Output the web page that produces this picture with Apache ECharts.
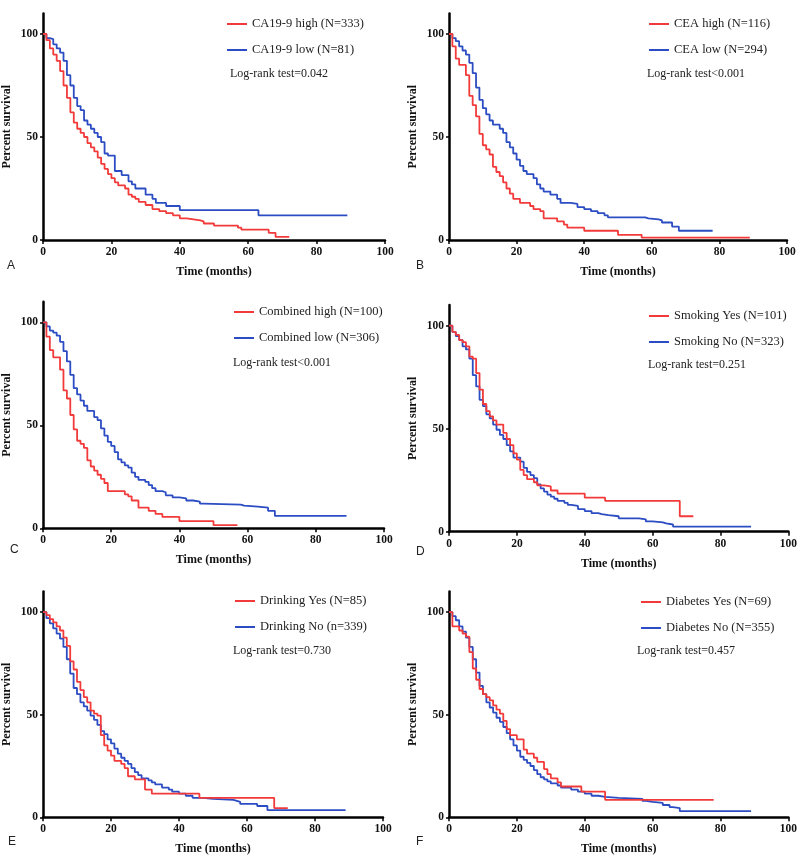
<!DOCTYPE html>
<html>
<head>
<meta charset="utf-8">
<script src="https://cdn.jsdelivr.net/npm/echarts@6/dist/echarts.min.js"></script>
<style>
  html, body { margin: 0; padding: 0; background: #fff; }
  #main { width: 800px; height: 859px; }
</style>
</head>
<body>
<div id="main"></div>
<script>
// survival data, [month, percent surviving from that month on]
var caHigh = [[0,100],[1,97],[2,93],[3,90],[4,87],[5,82],[6,75],[7,69],[8,62],[9,57],[10,54],[11,52],[12,50],[13,47],[14,45],[15,43],[16,40],[17,37],[18,34.5],[19,32],[20,30],[21,28],[22,26.5],[24,25],[25,22],[26,21],[27,20],[28,18.5],[30,17],[32,15],[34,14],[36,13],[38,12],[40,10.5],[42,10],[44,9.5],[46,9],[47,8],[50,7],[57,6],[58,5],[66,3.5],[68,1.5],[72,1.5]];
var caLow = [[0,100],[1,98],[2,97.5],[3,95],[4,93],[5,91],[6,87],[7,80],[8,75],[9,69],[10,65],[11,63],[12,58],[13,56],[14,54],[15,52],[16,50],[17,47.5],[18,42],[19,41],[21,33.5],[23,31.5],[25,28.5],[26,27],[27,25],[30,22],[32,20],[33,18],[36,16.5],[40,14.5],[63,12],[89,12]];
var ceaHigh = [[0,100],[1,94],[2,88],[3,85],[5,80],[6,70],[7,65.5],[8,60],[9,51.5],[10,46],[11,44],[12,41.5],[13,35.5],[14,33],[15,31],[16,28],[17,25],[18,22.5],[19,20],[21,18],[24,16.5],[25,15],[27,14],[28,10.5],[32,9],[34,7.5],[35,6],[40,4.5],[50,2.5],[57,1.2],[89,1.2]];
var ceaLow = [[0,100],[1,98],[2,96.5],[3,94],[4,92],[5,90],[6,86],[7,81],[8,74],[9,68],[10,64],[11,61],[12,58],[13,56],[15,54],[16,52],[17,47.5],[18,45],[19,42],[20,39],[21,36],[22,33.5],[23,32],[25,30],[26,27],[27,25],[28,23.5],[30,22],[32,20],[33,18],[36,17.5],[38,16],[40,15],[42,14],[44,13],[46,12],[47,11],[58,10.5],[59,10],[62,9.5],[63,8.5],[66,6.5],[68,4.5],[78,4.5]];
var combHigh = [[0,100],[1,93],[2,86.5],[3,83],[5,77],[6,67],[7,63],[8,55],[9,48],[10,42.5],[11,41],[12,39],[13,33],[14,30],[15,28],[16,26],[17,24],[18,22],[19,18],[24,16.5],[25,15.5],[26,13.5],[28,10],[31,8.5],[33,7],[35,5.5],[40,3.5],[50,1.5],[57,1.5]];
var combLow = [[0,100],[1,98],[2,96],[3,95],[4,93.5],[5,90.5],[6,86],[7,81],[8,74.5],[9,68],[10,65],[11,62],[12,59.5],[13,57],[15,54],[16,52.5],[17,48.5],[18,45],[19,42],[20,40],[21,37],[22,33.5],[23,32],[24,30.5],[25,29.5],[26,27],[27,25],[28,23.5],[30,22.5],[31,21],[32,19.5],[33,18],[35,17.5],[36,16],[38,15],[40,14.5],[42,13.5],[44,13],[46,12],[47,11.5],[58,11],[59,10.5],[63,10],[66,8.5],[68,6],[89,6]];
var smokeYes = [[0,100],[1,97],[2,95.5],[3,93],[4,92],[5,90],[6,85],[7,84],[8,77],[9,69],[10,62],[11,58.5],[12,56],[13,54],[14,52],[16,48],[17,45],[18,42],[19,38],[20,35],[21,30],[22,27.5],[23,25.5],[25,24],[26,22.5],[28,22],[30,20],[32,18.5],[40,16.5],[46,15],[68,7.5],[72,7.5]];
var smokeNo = [[0,100],[1,97],[2,95],[3,93],[4,90],[5,88.5],[6,84],[7,76],[8,70.5],[9,64],[10,61],[11,57],[12,55],[13,52],[14,49.5],[15,47],[16,45],[17,42],[18,39],[19,36],[21,34],[22,31],[23,29],[24,27.5],[25,26],[26,23],[27,21],[28,19.5],[29,18],[30,17],[31,16],[32,15],[34,14],[35,13],[36,12.5],[38,11],[40,10],[42,9],[44,8.5],[45,8],[47,7.5],[50,6.5],[56,6],[58,5],[60,4.5],[63,4],[64,3.5],[66,2.5],[89,2.5]];
var drinkYes = [[0,100],[1,98.5],[2,96.5],[3,95],[4,93],[5,91],[6,87.5],[7,83.5],[8,76],[9,72],[10,66],[11,62],[12,58.5],[13,56],[14,52],[15,50.5],[16,49.5],[17,40],[18,35],[19,32.5],[20,30],[21,27.5],[23,26],[24,24],[25,20],[27,18.5],[30,13.5],[32,11.5],[46,9.5],[68,4.5],[72,4.5]];
var drinkNo = [[0,100],[1,97],[2,94.5],[3,92],[4,89.5],[5,87],[6,83],[7,77],[8,70],[9,63],[10,60],[11,56],[12,54],[13,52],[14,49.5],[15,47.5],[16,45],[17,42],[18,40.5],[19,38],[20,36],[21,33.5],[22,31],[23,29],[24,27.5],[25,26],[26,24],[27,22],[28,20.5],[29,19],[31,18],[32,17],[33,16],[35,14.5],[37,13.5],[38,12.5],[40,11.5],[42,10.5],[44,9.5],[47,9],[50,8.5],[56,8],[57,7.5],[58,6.5],[63,5.5],[66,3.5],[89,3.5]];
var diabYes = [[0,100],[1,93],[3,91],[4,89.5],[5,88],[6,80.5],[7,72.5],[8,67],[9,62.5],[10,60],[11,58.5],[12,57],[13,54.5],[14,52.5],[15,50.5],[16,47],[17,43],[18,40],[20,38],[22,33],[23,31],[25,29],[26,27],[28,23.5],[29,21],[30,19],[32,17],[33,15],[39,12.5],[46,8.5],[78,8.5]];
var diabNo = [[0,100],[1,98],[2,96],[3,93],[4,90.5],[5,87.5],[6,83],[7,77],[8,70.5],[9,64],[10,60],[11,56],[12,53.5],[13,51],[14,48.5],[15,46.5],[16,44],[17,41],[18,38],[19,35],[20,32.5],[21,29.5],[22,28],[23,26.5],[24,25],[25,23],[26,21],[27,19.5],[28,18.5],[29,17.5],[30,16.5],[32,15.5],[33,14.5],[36,13.5],[38,12.5],[40,11.5],[42,10.5],[44,10],[46,9.5],[50,9],[57,8],[58,7.5],[60,7],[63,6],[65,5],[66,4.5],[68,3],[89,3]];

var redNames = ['CA19-9 high (N=333)', 'CEA high (N=116)', 'Combined high (N=100)', 'Smoking Yes (N=101)', 'Drinking Yes (N=85)', 'Diabetes Yes (N=69)'];
var blueNames = ['CA19-9 low (N=81)', 'CEA low (N=294)', 'Combined low (N=306)', 'Smoking No (N=323)', 'Drinking No (n=339)', 'Diabetes No (N=355)'];
var redData = [caHigh, ceaHigh, combHigh, smokeYes, drinkYes, diabYes];
var blueData = [caLow, ceaLow, combLow, smokeNo, drinkNo, diabNo];
var pValues = ['Log-rank test=0.042', 'Log-rank test<0.001', 'Log-rank test<0.001', 'Log-rank test=0.251', 'Log-rank test=0.730', 'Log-rank test=0.457'];
var letters = ['A', 'B', 'C', 'D', 'E', 'F'];
var xTicks = [0, 20, 40, 60, 80, 100];
var yTicks = [0, 50, 100];

// panel placement (pixels)
var panels = [
    {left: 43,  top: 13.4,  width: 342, height: 226.6, legX: 227, legY: 17,  pX: 230, pY: 75,  lX: 11,  lY: 267},
    {left: 449, top: 13.4,  width: 338, height: 226.6, legX: 649, legY: 17,  pX: 647, pY: 75,  lX: 420, lY: 267},
    {left: 43,  top: 301.7, width: 341, height: 226.6, legX: 234, legY: 305, pX: 233, pY: 364, lX: 14,  lY: 551},
    {left: 449, top: 305.1, width: 340, height: 226.6, legX: 649, legY: 309, pX: 648, pY: 366, lX: 420, lY: 553},
    {left: 43,  top: 591.5, width: 340, height: 225.8, legX: 235, legY: 594, pX: 233, pY: 652, lX: 12,  lY: 843},
    {left: 449, top: 591.5, width: 340, height: 225.8, legX: 641, legY: 595, pX: 637, pY: 652, lX: 420, lY: 843}
];

var RED = '#f23a3a';
var BLUE = '#2b4cc2';
var SERIF = '"Liberation Serif", "Times New Roman", serif';

var dom = document.getElementById('main');
var myChart = echarts.init(dom);

var grid = [], xAxis = [], yAxis = [], series = [], legend = [], graphic = [];
for (var i = 0; i < panels.length; i++) {
    var p = panels[i];
    grid.push({left: p.left, top: p.top, width: p.width, height: p.height, containLabel: false});
    xAxis.push({
        gridIndex: i,
        type: 'value',
        min: 0,
        max: 100,
        interval: 20,
        name: 'Time (months)',
        nameLocation: 'middle',
        nameGap: 26,
        nameTextStyle: {fontFamily: SERIF, fontWeight: 'bold', fontSize: 12, color: '#111'},
        axisLine: {lineStyle: {color: '#000', width: 2.5}},
        axisTick: {show: true, length: 4, lineStyle: {color: '#000', width: 1.5}},
        axisLabel: {fontFamily: SERIF, fontWeight: 'bold', fontSize: 11.5, color: '#111', margin: 6},
        splitLine: {show: false}
    });
    yAxis.push({
        gridIndex: i,
        type: 'value',
        min: 0,
        max: 110,
        name: 'Percent survival',
        nameLocation: 'middle',
        nameRotate: 90,
        nameGap: 30,
        nameTextStyle: {fontFamily: SERIF, fontWeight: 'bold', fontSize: 12, color: '#111'},
        axisLine: {lineStyle: {color: '#000', width: 2.5}},
        axisTick: {show: true, length: 3, customValues: yTicks, lineStyle: {color: '#000', width: 1.5}},
        axisLabel: {fontFamily: SERIF, fontWeight: 'bold', fontSize: 11.5, color: '#111', margin: 5, customValues: yTicks},
        splitLine: {show: false}
    });
    series.push({
        name: blueNames[i],
        type: 'line',
        xAxisIndex: i,
        yAxisIndex: i,
        step: 'end',
        symbol: 'none',
        lineStyle: {color: BLUE, width: 1.8},
        itemStyle: {color: BLUE},
        data: blueData[i]
    });
    series.push({
        name: redNames[i],
        type: 'line',
        xAxisIndex: i,
        yAxisIndex: i,
        step: 'end',
        symbol: 'none',
        lineStyle: {color: RED, width: 1.8},
        itemStyle: {color: RED},
        data: redData[i]
    });
    legend.push({
        data: [redNames[i], blueNames[i]],
        orient: 'vertical',
        left: p.legX,
        top: p.legY,
        padding: 0,
        icon: 'rect',
        itemWidth: 20,
        itemHeight: 2,
        itemGap: 12,
        selectedMode: false,
        textStyle: {fontFamily: SERIF, fontSize: 12.5, color: '#222', lineHeight: 14}
    });
    graphic.push({
        type: 'text',
        left: p.pX,
        top: p.pY - 7,
        style: {text: pValues[i], font: '12px ' + SERIF, fill: '#222'}
    });
    graphic.push({
        type: 'text',
        left: p.lX - 4,
        top: p.lY - 7,
        style: {text: letters[i], font: '12px "Liberation Sans", Arial, sans-serif', fill: '#222'}
    });
}

var option = {
    backgroundColor: '#fff',
    animation: false,
    grid: grid,
    xAxis: xAxis,
    yAxis: yAxis,
    legend: legend,
    graphic: graphic,
    series: series
};
myChart.setOption(option, true);
</script>
</body>
</html>
